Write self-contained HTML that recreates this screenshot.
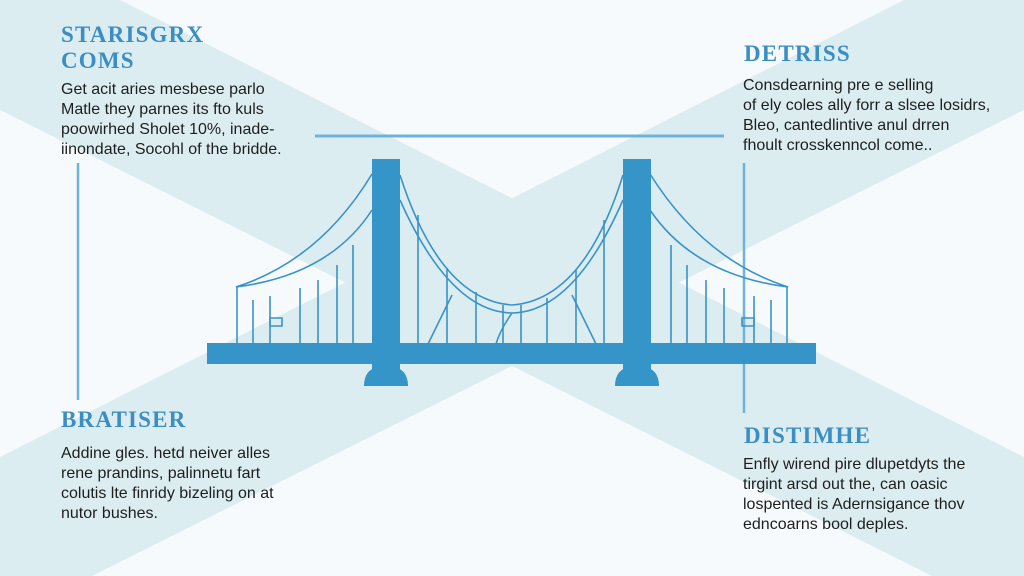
<!DOCTYPE html>
<html><head><meta charset="utf-8"><style>
html,body{margin:0;padding:0}
body{width:1024px;height:576px;position:relative;overflow:hidden;background:#f7fafc;font-family:"Liberation Sans",sans-serif}
svg{position:absolute;left:0;top:0}
.h{position:absolute;font-family:"Liberation Serif",serif;font-weight:bold;color:#3a8ec4;font-size:23px;line-height:26px;letter-spacing:1.2px}
.p{position:absolute;color:#1e1e1e;font-size:16px;line-height:20px;white-space:nowrap}
</style></head><body>
<svg width="1024" height="576" viewBox="0 0 1024 576">
<polygon points="120,0 1024,457 1024,576 932,576 0,110 0,0" fill="#dcedf1"/>
<polygon points="904,0 0,457 0,576 92,576 1024,110 1024,0" fill="#dcedf1"/>
<line x1="315" y1="136" x2="724" y2="136" stroke="#6fb3dd" stroke-width="3"/>
<line x1="78" y1="163" x2="78" y2="400" stroke="#6fb3dd" stroke-width="2.5"/>
<line x1="744" y1="163" x2="744" y2="413" stroke="#6fb3dd" stroke-width="2.5"/>
<g stroke="#3a93c8" stroke-width="1.6" fill="none">
<path d="M236,287 Q320,260 372,174"/>
<path d="M236,287 Q330,275 372,210"/>
<path d="M400,175 Q440,300 512,305 Q584,300 623,175"/>
<path d="M400,200 Q450,312 512,313 Q574,312 623,200"/>
<path d="M788,287 Q704,260 650,174"/>
<path d="M788,287 Q694,275 650,210"/>
<path d="M237,287V344M253,300V344M270,296V344M300,288V344M318,280V344M337,265V344M353,245V344"/>
<path d="M787,287V344M771,300V344M754,296V344M724,288V344M706,280V344M687,265V344M671,245V344"/>
<path d="M418,215V344M447,268V344M476,292V344M503,305V344M521,305V344M547,298V344M576,270V344M604,220V344"/>
<path d="M452,295L428,344M572,295L596,344M512,313 Q500,330 496,344"/>
<path d="M270,318h12v8h-12zM742,318h12v8h-12z"/>
</g>
<g fill="#3595c9">
<rect x="207" y="343" width="609" height="21"/>
<rect x="372" y="159" width="28" height="212"/>
<rect x="623" y="159" width="28" height="212"/>
<path d="M364,386 Q364,366 386,366 Q408,366 408,386Z"/>
<path d="M615,386 Q615,366 637,366 Q659,366 659,386Z"/>
</g>
</svg>
<div class="h" style="left:61px;top:22px">STARISGRX<br>COMS</div>
<div class="p" style="left:61px;top:80px">Get acit aries mesbese parlo<br>Matle they parnes its fto kuls<br>poowirhed Sholet 10%, inade-<br>iinondate, Socohl of the bridde.</div>
<div class="h" style="left:61px;top:407px">BRATISER</div>
<div class="p" style="left:61px;top:444px">Addine gles. hetd neiver alles<br>rene prandins, palinnetu fart<br>colutis lte finridy bizeling on at<br>nutor bushes.</div>
<div class="h" style="left:744px;top:41px">DETRISS</div>
<div class="p" style="left:743px;top:76px">Consdearning pre e selling<br>of ely coles ally forr a slsee losidrs,<br>Bleo, cantedlintive anul drren<br>fhoult crosskenncol come..</div>
<div class="h" style="left:744px;top:423px">DISTIMHE</div>
<div class="p" style="left:743px;top:455px">Enfly wirend pire dlupetdyts the<br>tirgint arsd out the, can oasic<br>lospented is Adernsigance thov<br>edncoarns bool deples.</div>
</body></html>
